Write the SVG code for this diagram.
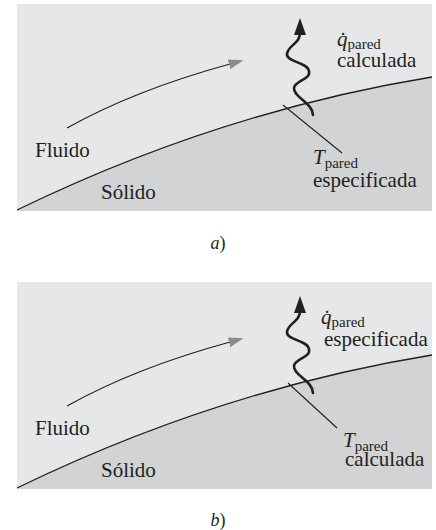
<svg xmlns="http://www.w3.org/2000/svg" width="436" height="530" viewBox="0 0 436 530">
<defs>
<style>
.fluid{fill:#e6e7e8}
.solid{fill:#d1d3d4}
.wall{fill:none;stroke:#231f20;stroke-width:1.3}
.flow{fill:none;stroke:#231f20;stroke-width:1.2;marker-end:url(#grayhead)}
.wave{fill:none;stroke:#231f20;stroke-width:2.6;stroke-linecap:round;marker-end:url(#blackhead)}
.lead{fill:none;stroke:#231f20;stroke-width:1.1}
.t{font-family:'Liberation Serif','Times New Roman','DejaVu Serif',serif;fill:#231f20;font-size:21px}
.it{font-style:italic}
.sub{font-size:15px;font-style:normal}
.cap{font-size:18px;font-style:italic}
</style>
<marker id="grayhead" markerUnits="userSpaceOnUse" markerWidth="16" markerHeight="10" refX="1" refY="5" orient="auto" viewBox="0 0 16 10">
<path d="M0,0 L15,5 L0,10 Z" fill="#8a8b8c"/>
</marker>
<marker id="blackhead" markerUnits="userSpaceOnUse" markerWidth="17" markerHeight="12" refX="2" refY="6" orient="auto" viewBox="0 0 17 12">
<path d="M0,0 L17,6 L0,12 Z" fill="#231f20"/>
</marker>
<g id="panelshape">
<rect class="fluid" x="17" y="4" width="415" height="207"/>
<path class="solid" d="M17,210 C120,160 260,105 432,77 L432,211 L17,211 Z"/>
<path class="wall" d="M17,210 C120,160 260,105 432,77"/>
<path class="flow" d="M67,128 Q135,90 230,64"/>
<path class="wave" d="M313,115 C313,103 293,97 294,88 C295,80 311,80 309,71 C307,62 286,62 287,54 C288,45 300,44 300,33"/>
</g>
</defs>

<g id="panel-a">
<use href="#panelshape"/>
<g id="leader-a"><path class="lead" d="M283,105 L342,153"/></g>
<g id="label-q-a">
<text x="337" y="46" class="t it" font-family="Liberation Serif, serif">q&#x307;<tspan class="sub" dy="3">pared</tspan></text>
<text x="337" y="67" class="t" font-family="Liberation Serif, serif">calculada</text>
</g>
<g id="label-T-a">
<text x="313" y="164" class="t it" font-family="Liberation Serif, serif">T<tspan class="sub" dy="4">pared</tspan></text>
<text x="313" y="187" class="t" font-family="Liberation Serif, serif">especificada</text>
</g>
<text x="35" y="157" class="t" font-family="Liberation Serif, serif">Fluido</text>
<text x="101" y="199" class="t" font-family="Liberation Serif, serif">Sólido</text>
<text x="218" y="249" class="t cap" text-anchor="middle" font-family="Liberation Serif, serif">a<tspan font-style="normal">)</tspan></text>
</g>

<g id="panel-b">
<use href="#panelshape" transform="translate(0,278)"/>
<g id="leader-b"><path class="lead" d="M288,383 L337,428"/></g>
<g id="label-q-b">
<text x="321" y="324" class="t it" font-family="Liberation Serif, serif">q&#x307;<tspan class="sub" dy="3">pared</tspan></text>
<text x="324" y="346" class="t" font-family="Liberation Serif, serif">especificada</text>
</g>
<g id="label-T-b">
<text x="343" y="447" class="t it" font-family="Liberation Serif, serif">T<tspan class="sub" dy="4">pared</tspan></text>
<text x="345" y="466" class="t" font-family="Liberation Serif, serif">calculada</text>
</g>
<text x="35" y="435" class="t" font-family="Liberation Serif, serif">Fluido</text>
<text x="101" y="477" class="t" font-family="Liberation Serif, serif">Sólido</text>
<text x="218" y="526" class="t cap" text-anchor="middle" font-family="Liberation Serif, serif">b<tspan font-style="normal">)</tspan></text>
</g>
</svg>
